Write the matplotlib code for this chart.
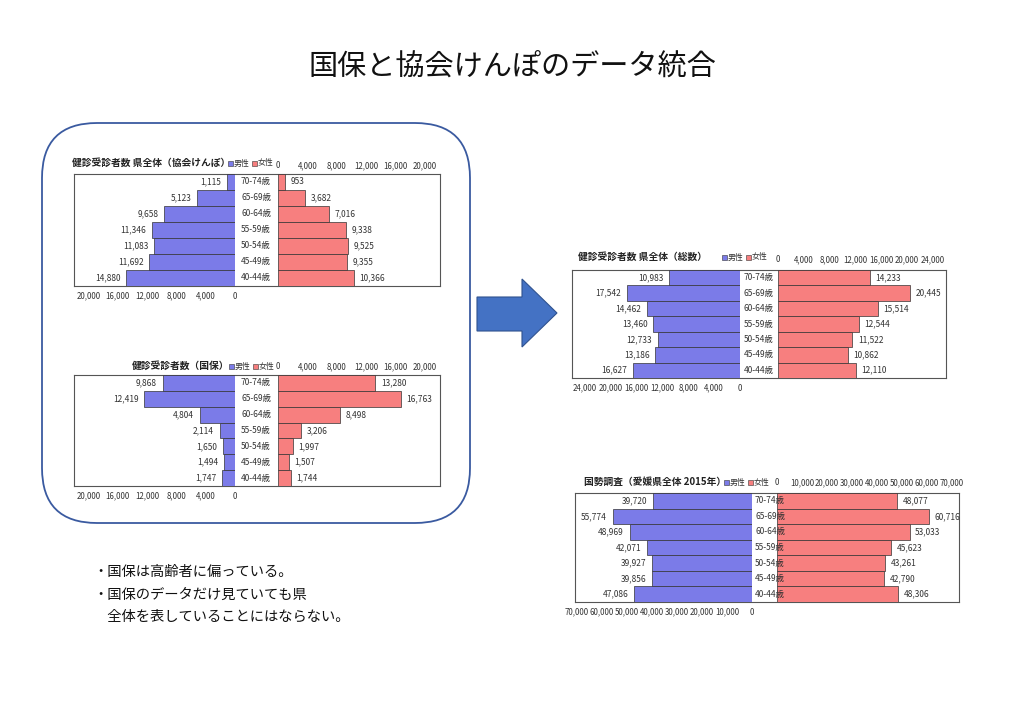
#!/usr/bin/env python3
# slide: merging the kokuho and kyokai-kenpo checkup counts into one pyramid
import matplotlib
matplotlib.use("Agg")
import matplotlib.pyplot as plt
from matplotlib.patches import FancyBboxPatch, Polygon, Rectangle

plt.rcParams["font.family"] = ["Noto Sans CJK JP", "DejaVu Sans"]

W, H = 1024, 724

# age groups, bottom row first
ages = ["40-44歳", "45-49歳", "50-54歳", "55-59歳", "60-64歳", "65-69歳", "70-74歳"]

kyokai_male = [14880, 11692, 11083, 11346, 9658, 5123, 1115]
kyokai_female = [10366, 9355, 9525, 9338, 7016, 3682, 953]

kokuho_male = [1747, 1494, 1650, 2114, 4804, 12419, 9868]
kokuho_female = [1744, 1507, 1997, 3206, 8498, 16763, 13280]

total_male = [16627, 13186, 12733, 13460, 14462, 17542, 10983]
total_female = [12110, 10862, 11522, 12544, 15514, 20445, 14233]

census_male = [47086, 39856, 39927, 42071, 48969, 55774, 39720]
census_female = [48306, 42790, 43261, 45623, 53033, 60716, 48077]

MALE = "#7b7be8"
FEMALE = "#f77f7f"


def frac(x0, y0, x1, y1):
    """pixel box -> figure fraction rect"""
    return [x0 / W, 1 - y1 / H, (x1 - x0) / W, (y1 - y0) / H]


def pyramid(bg, box, zm, zf, scale, step, top, males, females, title, tx, leg_x, lab_x, pads):
    x0, y0, x1, y1 = box
    # outer frame
    fr = fig.add_axes(frac(x0, y0, x1, y1))
    fr.set_xticks([])
    fr.set_yticks([])
    for s in fr.spines.values():
        s.set_color("#555555")
        s.set_linewidth(0.8)

    axl = fig.add_axes(frac(x0, y0, zm, y1))
    axr = fig.add_axes(frac(zf, y0, x1, y1))
    ypos = list(range(len(ages)))
    axl.barh(ypos, males, height=1.0, color=MALE, edgecolor="#333333", linewidth=0.5)
    axr.barh(ypos, females, height=1.0, color=FEMALE, edgecolor="#333333", linewidth=0.5)
    axl.set_xlim((zm - x0) / scale, 0)
    axr.set_xlim(0, (x1 - zf) / scale)
    ticks = list(range(0, top + 1, step))
    for ax in (axl, axr):
        ax.set_ylim(-0.5, len(ages) - 0.5)
        ax.set_yticks([])
        ax.patch.set_alpha(0)
        for s in ax.spines.values():
            s.set_visible(False)
        ax.set_xticks(ticks)
        ax.set_xticklabels([f"{t:,}" for t in ticks])
    axl.tick_params(axis="x", length=0, labelsize=5.7, pad=pads[1], colors="#333333")
    axr.xaxis.tick_top()
    axr.tick_params(axis="x", length=0, labelsize=5.7, pad=pads[0], colors="#333333")

    for i, v in enumerate(males):
        axl.annotate(f"{v:,}", (v, i), xytext=(-4, 0), textcoords="offset points",
                     ha="right", va="center", fontsize=6, color="#333333")
    for i, v in enumerate(females):
        axr.annotate(f"{v:,}", (v, i), xytext=(4, 0), textcoords="offset points",
                     ha="left", va="center", fontsize=6, color="#333333")
    for i, a in enumerate(ages):
        axr.annotate(a, (0, i), xycoords=("axes fraction", "data"),
                     xytext=((lab_x - zf) * 0.72, 0), textcoords="offset points",
                     ha="center", va="center", fontsize=6, color="#333333",
                     annotation_clip=False, zorder=5)

    ty = y0 - pads[2]
    bg.text(tx, ty, title, ha="left", va="center", fontsize=7.0, fontweight="bold", color="#222222")
    # legend: small squares + labels
    bg.add_patch(Rectangle((leg_x, ty - 2.5), 5, 5, facecolor=MALE, edgecolor="#333333", linewidth=0.4))
    bg.text(leg_x + 6, ty, "男性", ha="left", va="center", fontsize=5.7, color="#333333")
    bg.add_patch(Rectangle((leg_x + 24, ty - 2.5), 5, 5, facecolor=FEMALE, edgecolor="#333333", linewidth=0.4))
    bg.text(leg_x + 30, ty, "女性", ha="left", va="center", fontsize=5.7, color="#333333")


fig = plt.figure(figsize=(W / 100, H / 100), dpi=100)
bg = fig.add_axes([0, 0, 1, 1])
bg.set_xlim(0, W)
bg.set_ylim(H, 0)
bg.axis("off")

bg.text(512, 67, "国保と協会けんぽのデータ統合", ha="center", va="center", fontsize=21, color="#111111")

# rounded frame round the two source charts
bg.add_patch(FancyBboxPatch((42, 123), 428, 400, boxstyle="round,pad=0,rounding_size=55",
                            facecolor="none", edgecolor="#3a5aa0", linewidth=1.3))

# block arrow
bg.add_patch(Polygon([(477, 297), (522, 297), (522, 279), (557, 313), (522, 347), (522, 331), (477, 331)],
                     closed=True, facecolor="#4472c4", edgecolor="#2f528f", linewidth=0.8))

pyramid(bg, (74, 174, 440, 286), 235, 278, 0.00733, 4000, 20000, kyokai_male, kyokai_female,
        "健診受診者数 県全体（協会けんぽ）", 72, 228, 256, (3, 4, 11))
pyramid(bg, (74, 375, 440, 486), 235, 278, 0.00733, 4000, 20000, kokuho_male, kokuho_female,
        "健診受診者数（国保）", 132, 229, 256, (3, 4, 9))
pyramid(bg, (572, 270, 946, 378), 740, 778, 0.00645, 4000, 24000, total_male, total_female,
        "健診受診者数 県全体（総数）", 578, 722, 759, (4, 4, 13))
pyramid(bg, (575, 493, 959, 602), 752, 777, 0.0025, 10000, 70000, census_male, census_female,
        "国勢調査（愛媛県全体 2015年）", 584, 724, 770, (4, 4, 11))

notes = ["・国保は高齢者に偏っている。", "・国保のデータだけ見ていても県", "　全体を表していることにはならない。"]
for i, s in enumerate(notes):
    bg.text(93, 572 + i * 22.5, s, ha="left", va="center", fontsize=10.3, color="#111111")

fig.savefig("out.png", dpi=100)
